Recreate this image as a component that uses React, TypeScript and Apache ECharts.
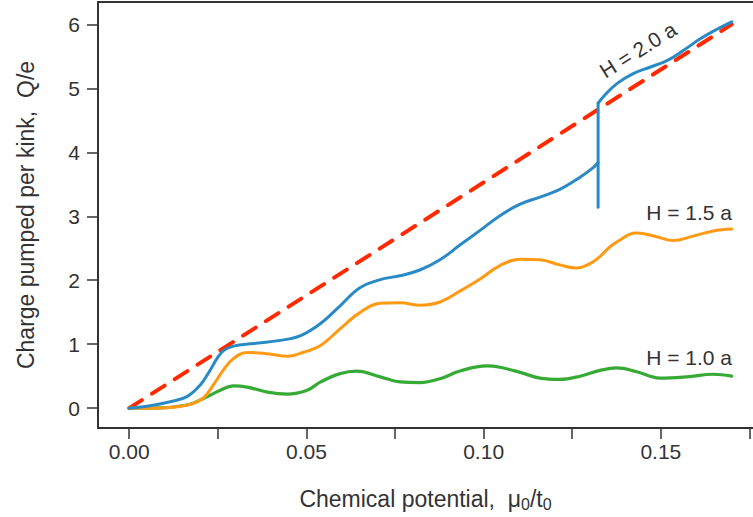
import React, { useEffect, useRef } from "react";
import * as echarts from "echarts";

const FONT = "Liberation Sans, Arial, Helvetica, sans-serif";

const xTickValues = [0, 0.025, 0.05, 0.075, 0.1, 0.125, 0.15, 0.175];
const xLabelValues = [0, 0.05, 0.1, 0.15];
const yTickValues = [0, 1, 2, 3, 4, 5, 6];

// H = 2.0 a (blue), split around the vertical jump
const blueBefore = [
  [0, 0], [0.005, 0.03], [0.0116, 0.1], [0.0163, 0.18], [0.02, 0.36], [0.0228, 0.59],
  [0.0247, 0.77], [0.0266, 0.9], [0.0294, 0.97], [0.0351, 1.01], [0.0426, 1.06],
  [0.0482, 1.13], [0.0539, 1.32], [0.0595, 1.6], [0.065, 1.88], [0.0708, 2.01],
  [0.0764, 2.07], [0.082, 2.16], [0.0877, 2.32], [0.0933, 2.55], [0.099, 2.78],
  [0.1046, 3.01], [0.1103, 3.19], [0.1159, 3.3], [0.1215, 3.42], [0.1272, 3.61],
  [0.1309, 3.76], [0.1323, 3.84],
];
const blueJump = [[0.1323, 3.14], [0.1323, 4.77]];
const blueAfter = [
  [0.1323, 4.77], [0.1338, 4.87], [0.1375, 5.07], [0.1422, 5.23], [0.1469, 5.33],
  [0.1516, 5.43], [0.1563, 5.59], [0.161, 5.77], [0.1657, 5.92], [0.17, 6.04],
];

// H = 1.5 a (orange)
const orange = [
  [0, 0], [0.007, 0.0], [0.0164, 0.05], [0.0209, 0.16], [0.0237, 0.36], [0.0265, 0.59],
  [0.0293, 0.77], [0.0333, 0.87], [0.039, 0.85], [0.0446, 0.81], [0.049, 0.87],
  [0.054, 0.98], [0.0595, 1.24], [0.065, 1.49], [0.0708, 1.64], [0.0764, 1.65],
  [0.082, 1.61], [0.0877, 1.66], [0.0933, 1.83], [0.099, 2.02], [0.1046, 2.23],
  [0.1103, 2.33], [0.1159, 2.32], [0.1215, 2.24], [0.1262, 2.19], [0.13, 2.26],
  [0.1328, 2.37], [0.1356, 2.52], [0.1385, 2.63], [0.1413, 2.72], [0.1432, 2.74],
  [0.1488, 2.68], [0.1535, 2.62], [0.1591, 2.69], [0.1648, 2.77], [0.17, 2.8],
];

// H = 1.0 a (green)
const green = [
  [0, 0], [0.0068, 0.0], [0.0164, 0.05], [0.0209, 0.15], [0.0257, 0.28], [0.0293, 0.35],
  [0.0333, 0.33], [0.039, 0.25], [0.0446, 0.22], [0.0502, 0.28], [0.054, 0.41],
  [0.0595, 0.54], [0.0642, 0.58], [0.0708, 0.49], [0.0764, 0.41], [0.082, 0.4],
  [0.0877, 0.46], [0.0933, 0.58], [0.1009, 0.66], [0.1046, 0.64], [0.1103, 0.56],
  [0.1159, 0.47], [0.1215, 0.45], [0.1272, 0.5], [0.1328, 0.59], [0.1375, 0.63],
  [0.1432, 0.57], [0.1497, 0.47], [0.1573, 0.49], [0.1648, 0.53], [0.17, 0.5],
];

// Classical limit (red dashed)
const classical = [[0, 0], [0.17, 6]];

const BLUE = "#2a8ac6";
const ORANGE = "#ff9a14";
const GREEN = "#35ab35";
const RED = "#ff2a00";
const AXIS = "#333333";

export default function App() {
  const ref = useRef<HTMLDivElement>(null);
  useEffect(() => {
    const chart = echarts.init(ref.current!, null, { renderer: "svg" });
    const line = (data: number[][], color: string, width: number, smooth: number | boolean) => ({
      type: "line",
      data,
      smooth,
      showSymbol: false,
      symbol: "none",
      lineStyle: { color, width, cap: "round", join: "round" },
      xAxisIndex: 0,
      yAxisIndex: 0,
      silent: true,
    });
    chart.setOption({
      animation: false,
      textStyle: { fontFamily: FONT },
      grid: { left: 98, right: 0, top: 2, bottom: 84, containLabel: false },
      xAxis: [
        {
          type: "value",
          min: -0.0088,
          max: 0.176,
          position: "bottom",
          axisLine: { onZero: false, lineStyle: { color: AXIS, width: 2 } },
          axisTick: {
            show: true,
            customValues: xTickValues,
            length: 11,
            inside: false,
            lineStyle: { color: AXIS, width: 1.5 },
          },
          axisLabel: {
            customValues: xLabelValues,
            formatter: (v: number) => v.toFixed(2),
            fontSize: 21,
            color: AXIS,
            margin: 13,
            fontFamily: FONT,
          },
          splitLine: { show: false },
          name: "{a|Chemical potential,  μ}{s|0}{a|/t}{s|0}",
          nameLocation: "middle",
          nameGap: 58,
          nameTextStyle: {
            rich: {
              a: { fontSize: 23, lineHeight: 26, color: AXIS, fontFamily: FONT },
              s: { fontSize: 16, lineHeight: 8, verticalAlign: "bottom", color: AXIS, fontFamily: FONT },
            },
          },
        },
        {
          type: "value",
          min: -0.0088,
          max: 0.176,
          position: "top",
          axisLine: { show: true, onZero: false, lineStyle: { color: AXIS, width: 2 } },
          axisTick: { show: false },
          axisLabel: { show: false },
          splitLine: { show: false },
        },
      ],
      yAxis: {
        type: "value",
        min: -0.31,
        max: 6.35,
        axisLine: { show: true, onZero: false, lineStyle: { color: AXIS, width: 2 } },
        axisTick: {
          show: true,
          customValues: yTickValues,
          length: 11,
          lineStyle: { color: AXIS, width: 1.5 },
        },
        axisLabel: {
          customValues: yTickValues,
          fontSize: 21,
          color: AXIS,
          margin: 18,
          fontFamily: FONT,
        },
        splitLine: { show: false },
        name: "Charge pumped per kink,  Q/e",
        nameLocation: "middle",
        nameGap: 61,
        nameTextStyle: { fontSize: 23, color: AXIS, fontFamily: FONT },
      },
      series: [
        {
          ...line(classical, RED, 4, false),
          lineStyle: { color: RED, width: 4, type: [15, 12], cap: "round" },
        },
        line(green, GREEN, 3.2, 0.4),
        line(orange, ORANGE, 3, 0.4),
        line(blueBefore, BLUE, 3, 0.4),
        line(blueJump, BLUE, 3, false),
        line(blueAfter, BLUE, 3, 0.4),
      ],
      graphic: [
        {
          type: "text",
          x: 638,
          y: 50,
          rotation: (32 * Math.PI) / 180,
          style: {
            text: "H = 2.0 a",
            fontSize: 21,
            fontFamily: FONT,
            fill: AXIS,
            align: "center",
            verticalAlign: "middle",
            textAlign: "center",
            textVerticalAlign: "middle",
          },
        },
        {
          type: "text",
          x: 732,
          y: 212,
          style: {
            text: "H = 1.5 a",
            fontSize: 21,
            fontFamily: FONT,
            fill: AXIS,
            align: "right",
            verticalAlign: "middle",
            textAlign: "right",
            textVerticalAlign: "middle",
          },
        },
        {
          type: "text",
          x: 732,
          y: 357,
          style: {
            text: "H = 1.0 a",
            fontSize: 21,
            fontFamily: FONT,
            fill: AXIS,
            align: "right",
            verticalAlign: "middle",
            textAlign: "right",
            textVerticalAlign: "middle",
          },
        },
      ],
    });
    return () => chart.dispose();
  }, []);
  return (
    <div
      ref={ref}
      style={{ position: "absolute", left: 0, top: 0, width: 753, height: 517 }}
    />
  );
}
